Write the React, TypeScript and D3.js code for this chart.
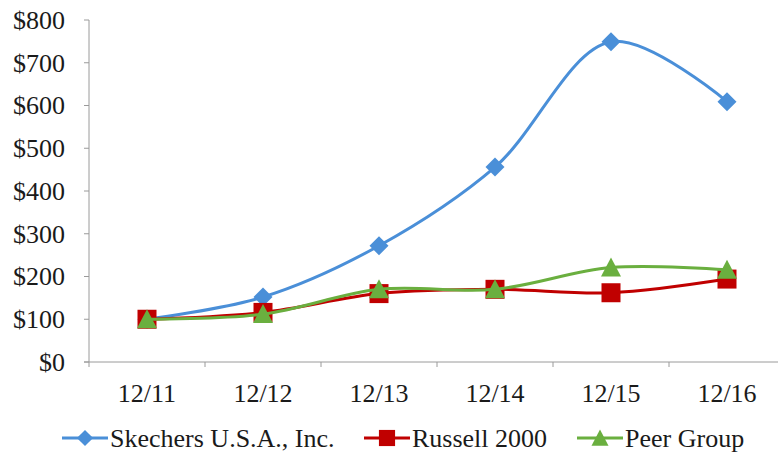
import { useEffect, useRef } from 'react';
import * as d3 from 'd3';

// Datos
const categorias = ['12/11', '12/12', '12/13', '12/14', '12/15', '12/16'];
const skechers = [100, 152, 272, 456, 749, 609];
const russell = [100, 116, 160, 170, 162, 194];
const peer = [100, 112, 170, 170, 221, 216];
const yTicks = [0, 100, 200, 300, 400, 500, 600, 700, 800];

const series = [
  { nombre: 'Skechers U.S.A., Inc.', valores: skechers, color: '#4a8fd8', marca: 'diamond' },
  { nombre: 'Russell 2000', valores: russell, color: '#c00000', marca: 'square' },
  { nombre: 'Peer Group', valores: peer, color: '#6aaf3f', marca: 'triangle' },
];

const W = 778;
const H = 461;
const fuente = '"Liberation Serif", "Times New Roman", serif';
const tamFuente = 26;

export default function App() {
  const ref = useRef<SVGSVGElement>(null);

  useEffect(() => {
    const svg = d3.select(ref.current);
    svg.selectAll('*').remove();

    const left = 89;
    const bandW = 116;
    const x = d3.scaleBand().domain(categorias).range([left, left + bandW * categorias.length]).padding(0);
    const y = d3.scaleLinear().domain([0, 800]).range([362, 20]);

    // Eje Y
    svg.append('line')
      .attr('x1', left).attr('x2', left).attr('y1', y(0)).attr('y2', y(800))
      .attr('stroke', '#9a9a9a').attr('stroke-width', 1);
    yTicks.forEach(t => {
      svg.append('line')
        .attr('x1', left - 5).attr('x2', left).attr('y1', y(t)).attr('y2', y(t))
        .attr('stroke', '#9a9a9a');
      svg.append('text')
        .attr('x', 65).attr('y', y(t)).attr('dy', '0.34em')
        .attr('text-anchor', 'end')
        .attr('font-family', fuente).attr('font-size', tamFuente).attr('fill', '#1a1a1a')
        .text('$' + t);
    });

    // Eje X
    svg.append('line')
      .attr('x1', left - 5).attr('x2', W).attr('y1', y(0)).attr('y2', y(0))
      .attr('stroke', '#9a9a9a');
    categorias.forEach((c, i) => {
      const x0 = x(c)!;
      svg.append('line')
        .attr('x1', x0).attr('x2', x0).attr('y1', y(0)).attr('y2', y(0) + 5)
        .attr('stroke', '#9a9a9a');
      svg.append('text')
        .attr('x', x0 + x.bandwidth() / 2).attr('y', 402)
        .attr('text-anchor', 'middle')
        .attr('font-family', fuente).attr('font-size', tamFuente).attr('fill', '#1a1a1a')
        .text(c);
      if (i === categorias.length - 1) {
        svg.append('line')
          .attr('x1', x0 + bandW).attr('x2', x0 + bandW).attr('y1', y(0)).attr('y2', y(0) + 5)
          .attr('stroke', '#9a9a9a');
      }
    });

    const cx = (c: string) => x(c)! + x.bandwidth() / 2;
    const linea = d3.line<number>()
      .x((_, i) => cx(categorias[i]))
      .y(d => y(d))
      .curve(d3.curveCatmullRom.alpha(0.5));

    const dibujaMarca = (g: any, tipo: string, px: number, py: number, color: string, s = 1) => {
      if (tipo === 'diamond') {
        const r = 9.5 * s;
        g.append('path')
          .attr('d', `M${px},${py - r}L${px + r},${py}L${px},${py + r}L${px - r},${py}Z`)
          .attr('fill', color);
      } else if (tipo === 'square') {
        const r = 9.5 * s;
        g.append('rect')
          .attr('x', px - r).attr('y', py - r).attr('width', 2 * r).attr('height', 2 * r)
          .attr('fill', color);
      } else {
        const r = 10 * s;
        g.append('path')
          .attr('d', `M${px},${py - r}L${px + r},${py + r * 0.9}L${px - r},${py + r * 0.9}Z`)
          .attr('fill', color);
      }
    };

    // Líneas y marcadores
    series.forEach(s => {
      svg.append('path')
        .datum(s.valores)
        .attr('d', linea)
        .attr('fill', 'none')
        .attr('stroke', s.color)
        .attr('stroke-width', 3);
      s.valores.forEach((v, i) => dibujaMarca(svg, s.marca, cx(categorias[i]), y(v), s.color));
    });

    // Leyenda
    const leyendaX = [62, 364, 577];
    series.forEach((s, i) => {
      const g = svg.append('g');
      const lx = leyendaX[i];
      const ly = 438;
      g.append('line')
        .attr('x1', lx).attr('x2', lx + 46).attr('y1', ly).attr('y2', ly)
        .attr('stroke', s.color).attr('stroke-width', 3);
      dibujaMarca(g, s.marca, lx + 23, ly, s.color, 0.85);
      g.append('text')
        .attr('x', lx + 48).attr('y', ly).attr('dy', '0.34em')
        .attr('font-family', fuente).attr('font-size', tamFuente).attr('fill', '#1a1a1a')
        .text(s.nombre);
    });
  }, []);

  return (
    <svg ref={ref} width={W} height={H}
      style={{ position: 'absolute', left: 0, top: 0, background: '#fff' }} />
  );
}
